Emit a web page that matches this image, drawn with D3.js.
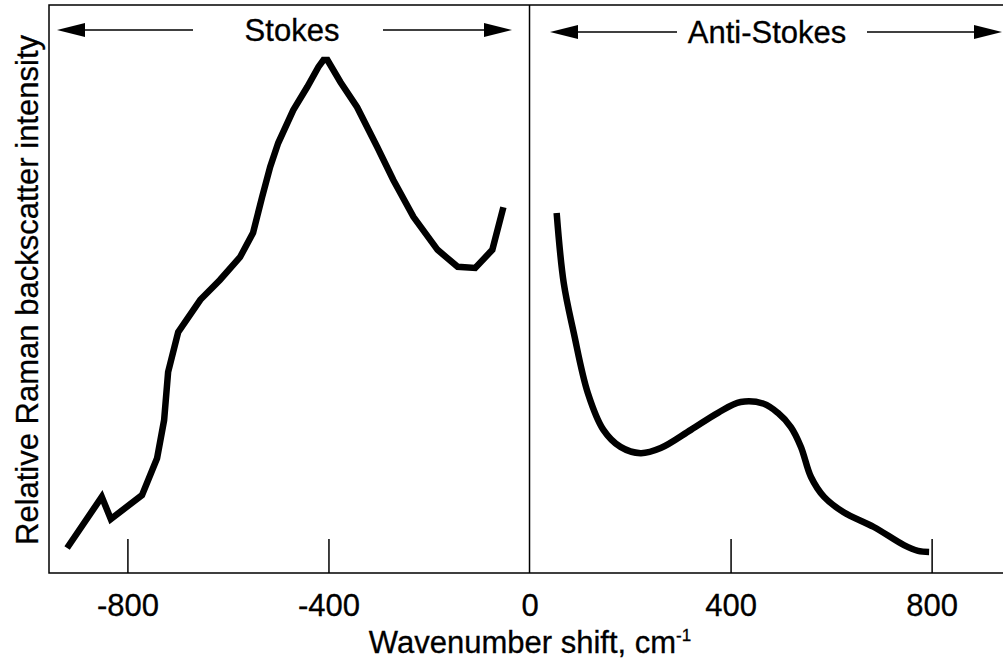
<!DOCTYPE html>
<html>
<head>
<meta charset="utf-8">
<script src="https://cdn.jsdelivr.net/npm/d3@7"></script>
<style>
  body { margin: 0; background: #fff; }
  text { font-family: "Liberation Sans", Arial, sans-serif; fill: #000; stroke: #000; stroke-width: 0.3px; }
</style>
</head>
<body>
<script>
// Spectrum (wavenumber shift, relative intensity 0-100)
var stokesShift = [-920, -851, -833, -771, -741, -727, -719, -699, -655, -616, -576, -550, -532, -516,
    -500, -470, -442, -420, -410, -402, -376, -343, -303, -271, -231, -183, -143, -108, -74, -52];
var stokesIntensity = [4.4, 13.4, 9.5, 13.7, 20.2, 26.9, 35.4, 42.4, 48.1, 51.6, 55.6, 59.9, 66.2, 71.5,
    75.7, 81.5, 85.6, 89.1, 90.3, 90.3, 86.4, 82.0, 75.0, 69.2, 62.7, 56.9, 53.9, 53.7, 56.9, 64.4];

var antiShift = [54, 68, 88, 116, 147, 181, 221, 261, 321, 375, 420, 466, 494, 520, 540, 560, 586,
    625, 685, 745, 773, 795];
var antiIntensity = [63.4, 51.1, 42.3, 31.7, 25.2, 22.2, 21.1, 22.0, 25.2, 28.2, 30.1, 29.8, 28.2,
    25.7, 22.2, 16.9, 13.4, 10.7, 8.1, 4.9, 3.9, 3.7];

var tickValues = [-800, -400, 0, 400, 800];

var width = 1003, height = 663;
var plotLeft = 49, plotRight = 1003, plotTop = 5, plotBottom = 573;

var svg = d3.select("body").append("svg")
    .attr("width", width)
    .attr("height", height);

var x = d3.scaleLinear().domain([-956, 942]).range([plotLeft, plotRight]);
var y = d3.scaleLinear().domain([0, 100]).range([plotBottom, plotTop]);

// frame
svg.append("path")
    .attr("d", "M" + plotRight + "," + plotTop + "H" + plotLeft + "V" + plotBottom + "H" + plotRight)
    .attr("fill", "none")
    .attr("stroke", "#000")
    .attr("stroke-width", 1.5);

// divider at zero shift
svg.append("line")
    .attr("x1", x(0)).attr("x2", x(0))
    .attr("y1", plotTop).attr("y2", plotBottom)
    .attr("stroke", "#000")
    .attr("stroke-width", 1.5);

// bottom axis, ticks pointing inward
var axis = svg.append("g")
    .attr("transform", "translate(0," + plotBottom + ")")
    .call(d3.axisBottom(x)
        .tickValues(tickValues)
        .tickSizeInner(-34)
        .tickSizeOuter(0)
        .tickPadding(21)
        .tickFormat(function(d) { return String(d); }));
axis.select(".domain").remove();
axis.selectAll("line").attr("stroke-width", 1.5);
axis.selectAll(".tick").filter(function(d) { return d === 0; }).select("line").remove();
axis.selectAll("text")
    .style("font-family", "'Liberation Sans', Arial, sans-serif")
    .style("font-size", "31px");

// axis titles
var xt = svg.append("text")
    .attr("x", 530)
    .attr("y", 653)
    .attr("text-anchor", "middle")
    .style("font-size", "31px")
    .text("Wavenumber shift, cm");
xt.append("tspan")
    .attr("dy", -12)
    .style("font-size", "17px")
    .text("-1");

svg.append("text")
    .attr("transform", "translate(38,290) rotate(-90)")
    .attr("text-anchor", "middle")
    .style("font-size", "31px")
    .text("Relative Raman backscatter intensity");

// region labels with double arrows
function arrowLabel(x1, x2, gap1, gap2, yy, label, cx) {
    var g = svg.append("g");
    g.append("line").attr("x1", x1 + 20).attr("x2", gap1).attr("y1", yy).attr("y2", yy)
        .attr("stroke", "#000").attr("stroke-width", 1.5);
    g.append("line").attr("x1", gap2).attr("x2", x2 - 20).attr("y1", yy).attr("y2", yy)
        .attr("stroke", "#000").attr("stroke-width", 1.5);
    g.append("path")
        .attr("d", "M" + x1 + "," + yy + "L" + (x1 + 28) + "," + (yy - 7) + "L" + (x1 + 28) + "," + (yy + 7) + "Z");
    g.append("path")
        .attr("d", "M" + x2 + "," + yy + "L" + (x2 - 28) + "," + (yy - 7) + "L" + (x2 - 28) + "," + (yy + 7) + "Z");
    g.append("text")
        .attr("x", cx)
        .attr("y", yy + 11)
        .attr("text-anchor", "middle")
        .style("font-size", "31px")
        .text(label);
}
arrowLabel(57, 512, 193, 383, 30, "Stokes", 292);
arrowLabel(550, 1002, 677, 867, 32, "Anti-Stokes", 767);

// spectra
var line = d3.line()
    .x(function(d) { return x(d[0]); })
    .y(function(d) { return y(d[1]); });

svg.append("path")
    .datum(d3.zip(stokesShift, stokesIntensity))
    .attr("fill", "none")
    .attr("stroke", "#000")
    .attr("stroke-width", 6.5)
    .attr("d", line);

svg.append("path")
    .datum(d3.zip(antiShift, antiIntensity))
    .attr("fill", "none")
    .attr("stroke", "#000")
    .attr("stroke-width", 6.5)
    .attr("d", line.curve(d3.curveCatmullRom));
</script>
</body>
</html>
